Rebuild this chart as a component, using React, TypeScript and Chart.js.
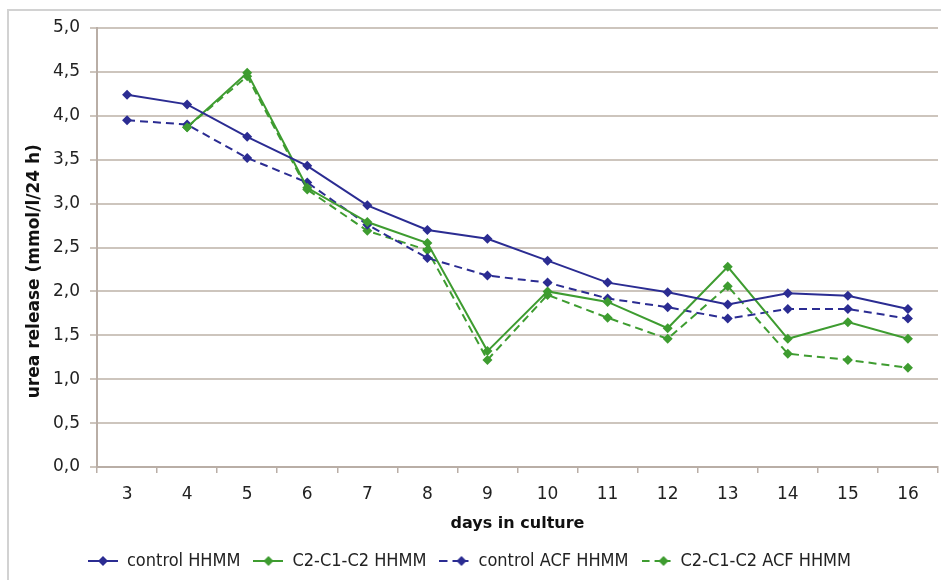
import React, { useEffect, useRef } from "react";
import { Chart, registerables } from "chart.js";

Chart.register(...registerables);

const days = ["3", "4", "5", "6", "7", "8", "9", "10", "11", "12", "13", "14", "15", "16"];
const controlHHMM = [4.24, 4.13, 3.76, 3.43, 2.98, 2.70, 2.60, 2.35, 2.10, 1.99, 1.85, 1.98, 1.95, 1.80];
const c2HHMM = [null, 3.87, 4.49, 3.18, 2.79, 2.55, 1.32, 2.0, 1.88, 1.58, 2.28, 1.46, 1.65, 1.46];
const controlACF = [3.95, 3.90, 3.52, 3.24, 2.76, 2.38, 2.18, 2.10, 1.92, 1.82, 1.69, 1.80, 1.80, 1.69];
const c2ACF = [null, 3.87, 4.45, 3.16, 2.69, 2.47, 1.22, 1.96, 1.70, 1.46, 2.06, 1.29, 1.22, 1.13];
const yTickLabels = ["0,0", "0,5", "1,0", "1,5", "2,0", "2,5", "3,0", "3,5", "4,0", "4,5", "5,0"];
const seriesNames = ["control HHMM", "C2-C1-C2 HHMM", "control ACF HHMM", "C2-C1-C2 ACF HHMM"];

const BLUE = "#2b2c92";
const GREEN = "#3e9c30";
const GRID = "#cdc5bd";
const AXIS = "#b9aea6";

function legendIcon(color: string, dashed: boolean) {
  const c = document.createElement("canvas");
  c.width = 30;
  c.height = 12;
  const ctx = c.getContext("2d")!;
  ctx.strokeStyle = color;
  ctx.lineWidth = 2;
  let cx = 15;
  if (dashed) {
    cx = 22;
    ctx.beginPath();
    ctx.moveTo(0, 6);
    ctx.lineTo(8, 6);
    ctx.moveTo(13, 6);
    ctx.lineTo(29, 6);
    ctx.stroke();
  } else {
    ctx.beginPath();
    ctx.moveTo(0, 6);
    ctx.lineTo(30, 6);
    ctx.stroke();
  }
  ctx.fillStyle = color;
  ctx.beginPath();
  ctx.moveTo(cx, 1);
  ctx.lineTo(cx + 5, 6);
  ctx.lineTo(cx, 11);
  ctx.lineTo(cx - 5, 6);
  ctx.closePath();
  ctx.fill();
  return c;
}

const framePlugin = {
  id: "frame",
  beforeDraw(chart: any) {
    const ctx = chart.ctx;
    ctx.save();
    ctx.fillStyle = "#ffffff";
    ctx.fillRect(0, 0, chart.width, chart.height);
    ctx.strokeStyle = "#d2d2d2";
    ctx.lineWidth = 2;
    ctx.beginPath();
    ctx.moveTo(8, chart.height);
    ctx.lineTo(8, 10);
    ctx.lineTo(941, 10);
    ctx.stroke();
    ctx.restore();
  },
};

export default function App() {
  const ref = useRef<HTMLCanvasElement | null>(null);
  useEffect(() => {
    if (!ref.current) return;
    const mk = (label: string, data: (number | null)[], color: string, dashed: boolean) => ({
      label,
      data,
      borderColor: color,
      backgroundColor: color,
      borderWidth: 2,
      borderDash: dashed ? [8, 5] : [],
      pointStyle: "rectRot",
      pointRadius: 5,
      pointBorderWidth: 0,
      pointBackgroundColor: color,
      tension: 0,
      spanGaps: false,
    });
    const icons = [
      legendIcon(BLUE, false),
      legendIcon(GREEN, false),
      legendIcon(BLUE, true),
      legendIcon(GREEN, true),
    ];
    const chart = new Chart(ref.current, {
      type: "line",
      data: {
        labels: days,
        datasets: [
          mk(seriesNames[0], controlHHMM, BLUE, false),
          mk(seriesNames[1], c2HHMM, GREEN, false),
          mk(seriesNames[2], controlACF, BLUE, true),
          mk(seriesNames[3], c2ACF, GREEN, true),
        ],
      },
      options: {
        animation: false,
        responsive: false,
        layout: { padding: { top: 28, right: 4, left: 0, bottom: 0 } },
        plugins: {
          tooltip: { enabled: false },
          legend: {
            position: "bottom",
            labels: {
              usePointStyle: true,
              pointStyleWidth: 30,
              boxHeight: 12,
              padding: 13,
              color: "#222222",
              font: { family: "DejaVu Sans Condensed", size: 18 },
              generateLabels: () =>
                seriesNames.map((n, i) => ({
                  text: n,
                  pointStyle: icons[i],
                  fillStyle: "transparent",
                  strokeStyle: "transparent",
                  lineWidth: 0,
                  hidden: false,
                  datasetIndex: i,
                  fontColor: "#222222",
                })),
            },
          },
        },
        scales: {
          x: {
            offset: true,
            grid: {
              offset: true,
              drawOnChartArea: false,
              drawTicks: true,
              tickLength: 6,
              color: AXIS,
              lineWidth: 1.5,
            },
            border: { color: AXIS, width: 2 },
            ticks: {
              color: "#222222",
              padding: 11,
              font: { family: "DejaVu Sans", size: 17 },
            },
            title: {
              display: true,
              text: "days in culture",
              color: "#111111",
              font: { family: "DejaVu Sans", size: 16, weight: "bold" },
              padding: { top: 0, bottom: 6 },
            },
            afterFit: (s: any) => {
              s.height = 72;
            },
          },
          y: {
            min: 0,
            max: 5,
            ticks: {
              stepSize: 0.5,
              color: "#222222",
              padding: 10,
              font: { family: "DejaVu Sans", size: 17 },
              callback: (_v: any, i: number) => yTickLabels[i],
            },
            grid: {
              color: GRID,
              lineWidth: 2,
              tickLength: 7,
              drawTicks: true,
            },
            border: { color: AXIS, width: 2 },
            title: {
              display: true,
              text: "urea release (mmol/l/24 h)        ",
              color: "#111111",
              font: { family: "DejaVu Sans", size: 17, weight: "bold" },
              padding: { top: 24, bottom: 0 },
            },
            afterFit: (s: any) => {
              s.width = 97;
            },
          },
        },
      },
      plugins: [framePlugin],
    });
    return () => chart.destroy();
  }, []);
  return (
    <div style={{ position: "absolute", left: 0, top: 0, width: 943, height: 580 }}>
      <canvas ref={ref} width={943} height={580} style={{ display: "block" }} />
    </div>
  );
}
